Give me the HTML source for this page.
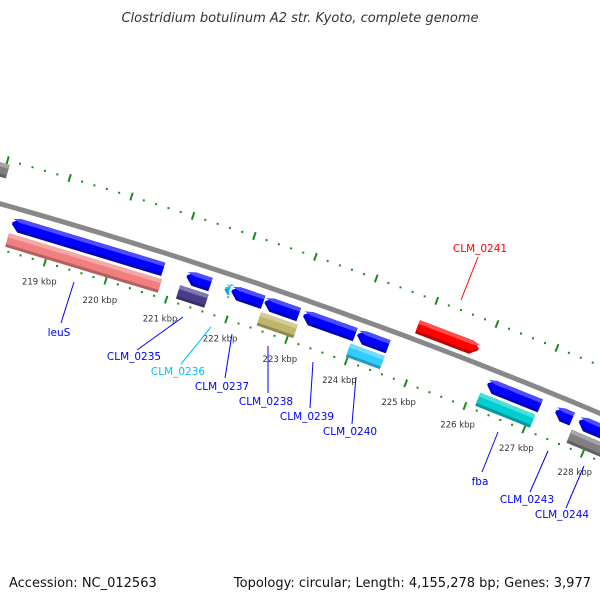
<!DOCTYPE html>
<html><head><meta charset="utf-8"><style>
html,body{margin:0;padding:0;background:#fff;}
svg{display:block;font-family:"DejaVu Sans","Liberation Sans",sans-serif;}
</style></head><body>
<svg id="chart" width="600" height="600" viewBox="0 0 600 600">
<text x="300" y="22" text-anchor="middle" font-size="13" font-style="italic" fill="#333">Clostridium botulinum A2 str. Kyoto, complete genome</text>
<g id="rings"></g>
<path id="backbone" fill="none" stroke="#888" stroke-width="5"/>
<g id="genes"></g>
<g id="labels"></g>
<text x="9" y="587" font-size="13" fill="#111">Accession: NC_012563</text>
<text x="591" y="587" text-anchor="end" font-size="13" fill="#111">Topology: circular; Length: 4,155,278 bp; Genes: 3,977</text>
</svg>
<script>
// data (kbp)
const geneStart = [217.9, 218.33, 218.33, 221.19, 221.14, 221.82, 221.93, 222.48, 222.48, 223.12, 224.02, 223.97, 224.86, 226.20, 226.15, 227.35, 227.75, 227.70];
const geneEnd   = [218.05, 220.81, 220.84, 221.59, 221.61, 221.90, 222.46, 223.05, 223.09, 223.99, 224.54, 224.54, 225.88, 227.10, 227.08, 227.64, 228.40, 228.40];
const geneTrack = ['top','in1','in2','in1','in2','in1','in1','in1','in2','in1','in1','in2','out','in1','in2','in1','in1','in2'];
const geneDir   = [0,-1,0,-1,0,-1,-1,-1,0,-1,-1,0,1,-1,0,-1,-1,0];
const geneColor = ['#808080','#0000ff','#f08080','#0000ff','#483d8b','#00bfff','#0000ff','#0000ff','#bdb76b','#0000ff','#0000ff','#33ccff','#ff0000','#0000ff','#00ced1','#0000ff','#0000ff','#808080'];
const tickKbp = [216,217,218,219,220,221,222,223,224,225,226,227,228,229,230];
const labelKbp = [219,220,221,222,223,224,225,226,227,228];
const labelText = ['leuS','CLM_0235','CLM_0236','CLM_0237','CLM_0238','CLM_0239','CLM_0240','CLM_0241','fba','CLM_0243','CLM_0244'];
const labelColor = ['#0000ff','#0000ff','#00bfff','#0000ff','#0000ff','#0000ff','#0000ff','#ff0000','#0000ff','#0000ff','#0000ff'];
const labelPos = [[59,336],[134,360],[178,375],[222,390],[266,405],[307,420],[350,435],[480,252],[480,485],[527,503],[562,518]];
const labelLine = [[74,282,61,323],[183,317,137,350],[211,327,181,364],[232,334,225,378],[268,346,268,393],[313,362,310,408],[356,377,352,424],[478,257,461,300],[498,432,482,472],[548,451,530,492],[584,466,566,508]];

const NS='http://www.w3.org/2000/svg';
const Cx=-1378, Cy=5112, R=5098, T0=0.3356, DT=0.01255;
function P(k,off){const t=T0+(k-223)*DT, r=R+off;return [Cx+r*Math.sin(t), Cy-r*Math.cos(t)];}
function mk(tag,attrs,parent){const e=document.createElementNS(NS,tag);for(const a in attrs)e.setAttribute(a,attrs[a]);parent.appendChild(e);return e;}
// backbone
let d='';for(let k=214;k<=232;k+=0.25){const p=P(k,0);d+=(d?'L':'M')+p[0].toFixed(1)+' '+p[1].toFixed(1);}
document.getElementById('backbone').setAttribute('d',d);
// rings
const rings=document.getElementById('rings');
for(const off of [-44,44]){
  for(let i=0;i<tickKbp.length;i++){
    for(let j=0;j<5;j++){
      const k=tickKbp[i]+j*0.2;
      if(j===0){const a=P(k,off-4),b=P(k,off+4);
        const l=mk('line',{x1:a[0],y1:a[1],x2:b[0],y2:b[1],stroke:'#1a8a1a','stroke-width':2},rings);
        
        
      } else {const p=P(k,off);
        const c=mk('rect',{x:p[0]-1,y:p[1]-1,width:2,height:2,fill:'#1a8a1a'},rings);
        
        
      }
    }
  }
}
for(let i=0;i<labelKbp.length;i++){
  const p=P(labelKbp[i],-64);
  const t=mk('text',{x:p[0],y:p[1]+3,'text-anchor':'middle','font-size':8.5,fill:'#333'},rings);
  t.textContent=labelKbp[i]+' kbp';
  
  
}
// genes
const tracks={in1:[-9,-23],in2:[-26,-40],out:[6,20],top:[26,40]};
function shade(hex,f){const n=parseInt(hex.slice(1),16);let r=n>>16,g=(n>>8)&255,b=n&255;
  const m=c=>Math.round(f>0?c+(255-c)*f:c*(1+f));return 'rgb('+m(r)+','+m(g)+','+m(b)+')';}
const genes=document.getElementById('genes');
function poly(k1,k2,o1,o2,dir){
  const mid=(o1+o2)/2, a=0.12;const pts=[];
  if(dir<0){pts.push(P(k1,mid),P(k1+a,o1),P(k2,o1),P(k2,o2),P(k1+a,o2));}
  else if(dir>0){pts.push(P(k1,o1),P(k2-a,o1),P(k2,mid),P(k2-a,o2),P(k1,o2));}
  else pts.push(P(k1,o1),P(k2,o1),P(k2,o2),P(k1,o2));
  return pts.map(p=>p[0].toFixed(1)+','+p[1].toFixed(1)).join(' ');
}
for(let i=0;i<geneStart.length;i++){
  const tr=tracks[geneTrack[i]];const hi=Math.max(tr[0],tr[1]),lo=Math.min(tr[0],tr[1]);
  const g=mk('g',{},genes);
  
  
  mk('polygon',{points:poly(geneStart[i],geneEnd[i],hi,lo,geneDir[i]),fill:shade(geneColor[i],-0.25)},g);
  mk('polygon',{points:poly(geneStart[i],geneEnd[i],hi,lo+3,geneDir[i]),fill:geneColor[i]},g);
  mk('polygon',{points:poly(geneStart[i],geneEnd[i],hi,hi-4,geneDir[i]),fill:shade(geneColor[i],0.3)},g);
}
// labels
const labels=document.getElementById('labels');
for(let i=0;i<labelText.length;i++){
  const L=labelLine[i];
  const ln=mk('line',{x1:L[0],y1:L[1],x2:L[2],y2:L[3],stroke:labelColor[i],'stroke-width':1},labels);
  
  
  const t=mk('text',{x:labelPos[i][0],y:labelPos[i][1],'text-anchor':'middle','font-size':10.5,fill:labelColor[i]},labels);
  t.textContent=labelText[i];
  
  
}
</script>
</body></html>
